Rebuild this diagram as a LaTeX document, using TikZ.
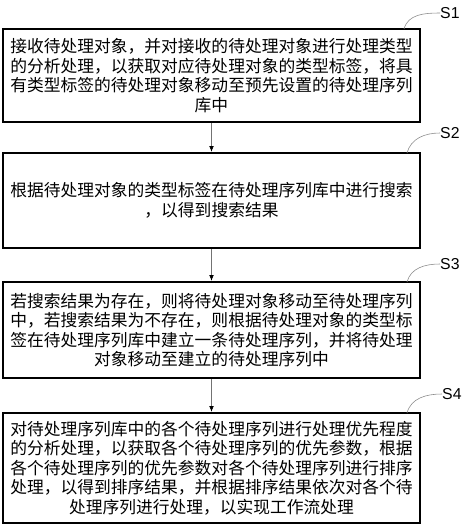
\documentclass[tikz,border=0pt]{standalone}
\usepackage{fontspec}
\newfontfamily\cjk{Noto Sans CJK SC}
\setsansfont{Liberation Sans}
\usetikzlibrary{arrows.meta}

\begin{document}
\begin{tikzpicture}[x=0.03cm,y=-0.03cm,
    stepbox/.style={draw,line width=1.8pt,minimum width=12.51cm,inner sep=0pt,align=center,
      font=\cjk\fontsize{14.3pt}{16.6pt}\selectfont},
    steplabel/.style={anchor=west,inner sep=0pt,font=\sffamily\fontsize{13.5pt}{15pt}\selectfont},
    leader/.style={draw=black!45,line width=0.5pt},
    flow/.style={draw=black!55,line width=0.6pt,-{Latex[length=5pt,width=4pt,color=black]}}]
    \useasboundingbox (0,0) rectangle (474,527);
    \node[stepbox,minimum height=2.79cm] (b1) at (211.5,75.5)
      {接收待处理对象，并对接收的待处理对象进行处理类型\\
       的分析处理，以获取对应待处理对象的类型标签，将具\\
       有类型标签的待处理对象移动至预先设置的待处理序列\\
       库中};
    \node[stepbox,minimum height=2.85cm] (b2) at (211.5,200.5)
      {根据待处理对象的类型标签在待处理序列库中进行搜索\\
       ，以得到搜索结果};
    \node[stepbox,minimum height=2.88cm] (b3) at (211.5,330)
      {若搜索结果为存在，则将待处理对象移动至待处理序列\\
       中，若搜索结果为不存在，则根据待处理对象的类型标\\
       签在待处理序列库中建立一条待处理序列，并将待处理\\
       对象移动至建立的待处理序列中};
    \node[stepbox,minimum height=3.3cm] (b4) at (211.5,468)
      {对待处理序列库中的各个待处理序列进行处理优先程度\\
       的分析处理，以获取各个待处理序列的优先参数，根据\\
       各个待处理序列的优先参数对各个待处理序列进行排序\\
       处理，以得到排序结果，并根据排序结果依次对各个待\\
       处理序列进行处理，以实现工作流处理};
    % step labels
    \node[steplabel] (s1) at (440,13) {S1};
    \node[steplabel] (s2) at (440,133) {S2};
    \node[steplabel] (s3) at (440,264) {S3};
    \node[steplabel] (s4) at (442,394) {S4};
    \coordinate (c1) at (404,29);
    \coordinate (c2) at (407,153);
    \coordinate (c3) at (407,282);
    \coordinate (c4) at (407,413);
    \draw[leader] (s1.west) to[out=180,in=75] (c1);
    \draw[leader] (s2.west) to[out=180,in=75] (c2);
    \draw[leader] (s3.west) to[out=180,in=75] (c3);
    \draw[leader] (s4.west) to[out=180,in=75] (c4);
    % arrows
    \draw[flow] (b1.south) -- (b2.north);
    \draw[flow] (b2.south) -- (b3.north);
    \draw[flow] (b3.south) -- (b4.north);
\end{tikzpicture}
\end{document}
